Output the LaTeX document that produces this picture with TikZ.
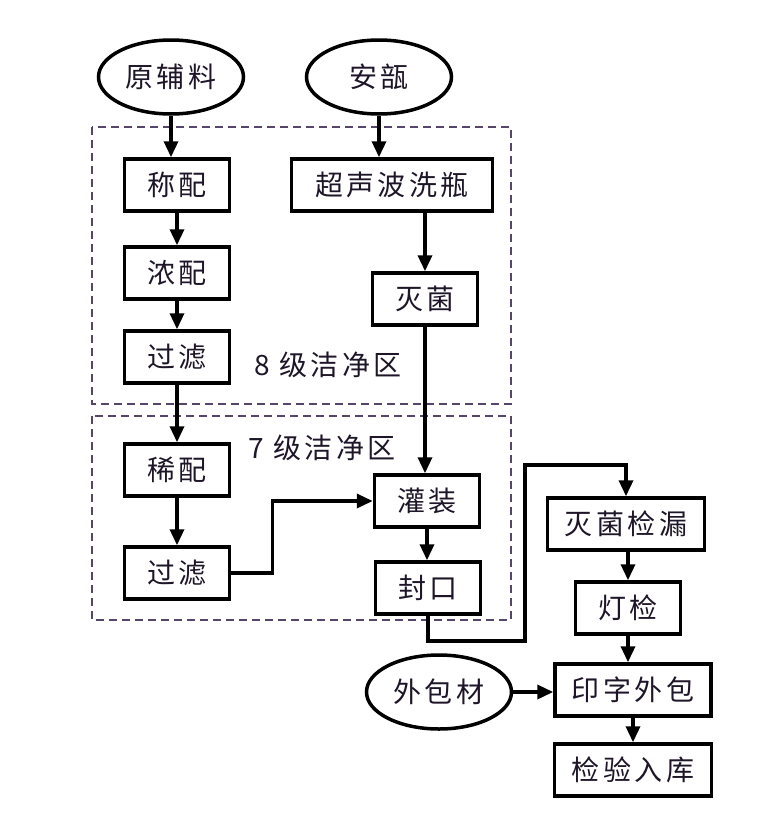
\documentclass[tikz,border=0pt]{standalone}
\usepackage{fontspec}
\setmainfont{Noto Sans CJK SC}[LetterSpace=12]
\usetikzlibrary{arrows.meta,shapes.geometric}
\definecolor{zonecol}{RGB}{85,70,105}
\definecolor{inkcol}{RGB}{30,22,40}

\tikzset{
  stepbox/.style={draw,line width=3.5pt,minimum width=105pt,minimum height=52pt,inner sep=0pt,text=inkcol,font=\fontsize{28}{32}\selectfont},
  source/.style={draw,ellipse,line width=3.5pt,minimum width=145pt,minimum height=74pt,inner sep=0pt,text=inkcol,font=\fontsize{28}{32}\selectfont},
  zonelabel/.style={inner sep=0pt,text=inkcol,font=\fontsize{28}{32}\selectfont},
  zone/.style={draw=zonecol,line width=1.8pt,dash pattern=on 8pt off 5pt},
  flow/.style={-{Triangle[length=16pt,width=14pt]},line width=3.5pt}
}

\begin{document}
\begin{tikzpicture}[x=1pt,y=-1pt]
  \useasboundingbox (0,0) rectangle (770,830);

  % clean zones
  \draw[zone] (92,127) rectangle (511,404);
  \draw[zone] (92,416) rectangle (511,620);
  \node[zonelabel] (z8) at (328,365) {8 级洁净区};
  \node[zonelabel] (z7) at (322,448) {7 级洁净区};

  \node[source] (yfl) at (171,77) {原辅料};
  \node[source] (ab) at (379,77) {安瓿};

  \node[stepbox] (cp) at (177,185) {称配};
  \node[stepbox] (np) at (177,273) {浓配};
  \node[stepbox] (gl1) at (177,357) {过滤};
  \node[stepbox] (xp) at (177,470) {稀配};
  \node[stepbox] (gl2) at (177,573) {过滤};

  \node[stepbox,minimum width=201pt] (csb) at (392,185) {超声波洗瓶};
  \node[stepbox] (mj) at (425,299) {灭菌};
  \node[stepbox] (gz) at (427,501) {灌装};
  \node[stepbox] (fk) at (428,588) {封口};

  \node[stepbox,minimum width=157pt] (mjjl) at (626,524) {灭菌检漏};
  \node[stepbox] (dj) at (628,608) {灯检};
  \node[source] (wbc) at (439,692) {外包材};
  \node[stepbox,minimum width=156pt] (yz) at (633,690) {印字外包};
  \node[stepbox,minimum width=157pt] (jy) at (633,770) {检验入库};

  \coordinate (up) at (525,465);

  \draw[flow] (yfl.south) -- (yfl.south |- cp.north);
  \draw[flow] (cp) -- (np);
  \draw[flow] (np) -- (gl1);
  \draw[flow] (gl1) -- (xp);
  \draw[flow] (xp) -- (gl2);
  \draw[flow] (ab.south) -- (ab.south |- csb.north);
  \draw[flow] (mj.north |- csb.south) -- (mj.north);
  \draw[flow] (mj.south) -- (mj.south |- gz.north);
  \draw[flow] (gl2.east) -- ++(41,0) |- (gz.west);
  \draw[flow] (gz.south) -- (gz.south |- fk.north);
  \draw[flow] (fk.south) -- ++(0,25) -| (up) -| (mjjl.north);
  \draw[flow] (dj.north |- mjjl.south) -- (dj.north);
  \draw[flow] (dj.south) -- (dj.south |- yz.north);
  \draw[flow] (wbc.east) -- (wbc.east -| yz.west);
  \draw[flow] (yz.south) -- (yz.south |- jy.north);
\end{tikzpicture}
\end{document}
